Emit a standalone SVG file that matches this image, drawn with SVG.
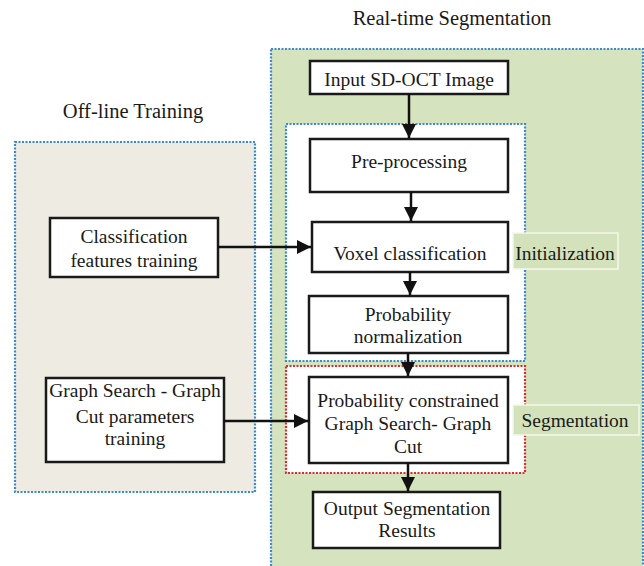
<svg xmlns="http://www.w3.org/2000/svg" width="644" height="566" viewBox="0 0 644 566">
<style>
text{font-family:"Liberation Serif","Times New Roman",serif;font-size:19.5px;fill:#1a1a1a;text-anchor:middle}
.title{font-size:20.5px}
.box{fill:#ffffff;stroke:#1a1a1a;stroke-width:2.5}
.dotb{fill:none;stroke:#3a8ad0;stroke-width:2.2;stroke-dasharray:2 1.5}
.dotr{fill:none;stroke:#e02a2a;stroke-width:2.2;stroke-dasharray:2 1.5}
.lab{fill:#d4e2bc;stroke:#f4f8ec;stroke-width:1.5}
.conn line{stroke:#111;stroke-width:2.5}
</style>
<defs>
<marker id="ah" viewBox="0 0 10 10" refX="10" refY="5" markerWidth="5.6" markerHeight="5.6" orient="auto" markerUnits="strokeWidth">
<path d="M0,0 L10,5 L0,10 z" fill="#111"/>
</marker>
</defs>
<rect width="644" height="566" fill="#ffffff"/>
<g id="offline-panel">
<rect x="15" y="142" width="240" height="350" fill="#eeebe2"/>
<rect x="15" y="142" width="240" height="350" class="dotb"/>
<text x="133" y="118" class="title">Off-line Training</text>
</g>
<g id="realtime-panel">
<rect x="271" y="49" width="372" height="520" fill="#d5e3be"/>
<rect x="271" y="49" width="372" height="520" class="dotb"/>
<text x="452" y="25" class="title">Real-time Segmentation</text>
</g>
<g id="init-group">
<rect x="286" y="124" width="239" height="237" fill="#ffffff"/>
<rect x="286" y="124" width="239" height="237" class="dotb"/>
</g>
<g id="seg-group">
<rect x="286" y="366" width="239" height="107" fill="#ffffff"/>
<rect x="286" y="366" width="239" height="107" class="dotr"/>
</g>
<g id="init-label">
<rect x="513" y="233" width="105" height="36" class="lab"/>
<text x="565" y="260">Initialization</text>
</g>
<g id="seg-label">
<rect x="513" y="405" width="126" height="30" class="lab"/>
<text x="575" y="427">Segmentation</text>
</g>
<g id="input">
<rect x="310" y="61" width="198" height="33" class="box"/>
<text x="409" y="86">Input SD-OCT Image</text>
</g>
<g id="preprocessing">
<rect x="310" y="139" width="198" height="53" class="box"/>
<text x="409" y="168">Pre-processing</text>
</g>
<g id="voxel">
<rect x="312" y="222" width="196" height="50" class="box"/>
<text x="410" y="260">Voxel classification</text>
</g>
<g id="probnorm">
<rect x="309" y="296" width="199" height="57" class="box"/>
<text x="408" y="321">Probability</text>
<text x="408" y="343">normalization</text>
</g>
<g id="pcgs">
<rect x="309" y="377" width="199" height="86" class="box"/>
<text x="408" y="407">Probability constrained</text>
<text x="408" y="430">Graph Search- Graph</text>
<text x="408" y="453">Cut</text>
</g>
<g id="output">
<rect x="313" y="492" width="187" height="56" class="box"/>
<text x="407" y="515">Output Segmentation</text>
<text x="407" y="537">Results</text>
</g>
<g id="classfeat">
<rect x="50" y="218" width="168" height="59" class="box"/>
<text x="134" y="243">Classification</text>
<text x="134" y="267">features training</text>
</g>
<g id="gsgc">
<rect x="46" y="378" width="178" height="84" class="box"/>
<text x="135" y="397">Graph Search - Graph</text>
<text x="135" y="423">Cut parameters</text>
<text x="135" y="445">training</text>
</g>
<g id="connectors" class="conn">
<line x1="409" y1="94" x2="409" y2="138" marker-end="url(#ah)"/>
<line x1="411" y1="192" x2="411" y2="221" marker-end="url(#ah)"/>
<line x1="410" y1="272" x2="410" y2="295" marker-end="url(#ah)"/>
<line x1="408" y1="353" x2="408" y2="376" marker-end="url(#ah)"/>
<line x1="408" y1="463" x2="408" y2="491" marker-end="url(#ah)"/>
<line x1="218" y1="247" x2="311" y2="247" marker-end="url(#ah)"/>
<line x1="224" y1="421" x2="308" y2="421" marker-end="url(#ah)"/>
</g>
</svg>
